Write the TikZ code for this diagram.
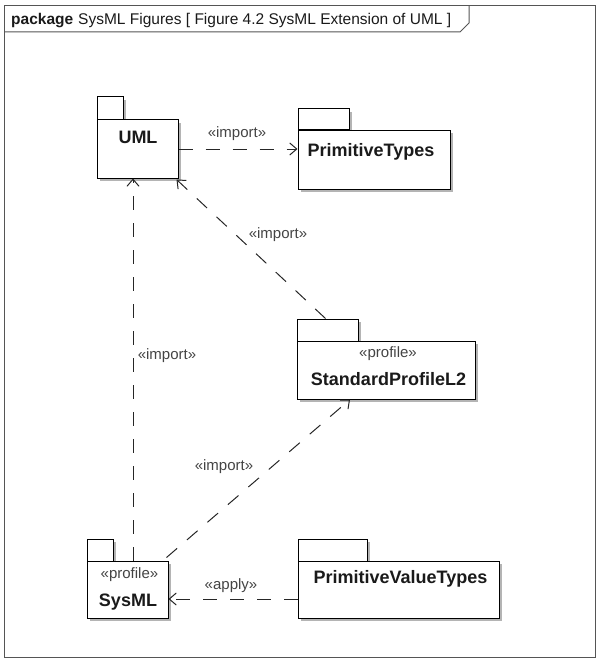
\documentclass[tikz,border=0pt]{standalone}
\usepackage{fontspec}
\setmainfont{Liberation Sans}
\usetikzlibrary{arrows.meta,shadows}
\definecolor{framec}{HTML}{555555}
\definecolor{shadowc}{HTML}{B4B4B4}
\definecolor{textc}{HTML}{1A1A1A}
\definecolor{labelc}{HTML}{444444}
\begin{document}
\begin{tikzpicture}[x=1pt,y=-1pt,
  pkg/.style={draw=black, line width=1pt, fill=white, inner sep=0pt,
    drop shadow={shadow xshift=3pt, shadow yshift=-3pt, fill=shadowc, opacity=1}},
  pkgname/.style={font=\fontsize{18}{20}\selectfont\bfseries, text=textc, inner sep=0pt, anchor=base},
  stereo/.style={font=\fontsize{15}{17}\selectfont, text=labelc, inner sep=0pt, anchor=base},
  dep/.style={line width=1pt, dash pattern=on 14pt off 13pt, draw=black!85,
    -{Straight Barb[length=7pt,width=12pt,line width=1pt]}},
  deplabel/.style={font=\fontsize{15}{17}\selectfont, text=labelc, inner sep=0pt, anchor=base}
]
\useasboundingbox (0,0) rectangle (596,658);
% frame
\draw[framec, line width=1pt] (4,5.5) rectangle (595,657);
\draw[framec, line width=1pt] (4,32) -- (460,32) -- (469,23) -- (469,5.5);
\node[anchor=base west, font=\fontsize{15.5}{17}\selectfont, text=textc, inner sep=0pt] (title) at (11,24.5)
  {\textbf{package}\hspace{5pt}SysML Figures [ Figure 4.2 SysML Extension of UML ]};

% UML
\node[pkg, minimum width=26pt, minimum height=23pt] (umltab) at (110,108.5) {};
\node[pkg, minimum width=81pt, minimum height=58pt] (uml) at (137.5,149) {};
\node[pkgname] (umlname) at (138,143) {UML};

% PrimitiveTypes
\node[pkg, minimum width=51pt, minimum height=21pt] (pttab) at (323.5,119.5) {};
\node[pkg, minimum width=152pt, minimum height=59pt] (pt) at (374,159.5) {};
\node[pkgname] (ptname) at (371,156) {PrimitiveTypes};

% StandardProfileL2
\node[pkg, minimum width=61pt, minimum height=22pt] (spltab) at (327.5,330) {};
\node[pkg, minimum width=178pt, minimum height=58pt] (spl) at (386,370) {};
\node[stereo] (splst) at (388,357) {«profile»};
\node[pkgname] (splname) at (388.5,385) {StandardProfileL2};

% SysML
\node[pkg, minimum width=26pt, minimum height=22pt] (sysmltab) at (100,550) {};
\node[pkg, minimum width=81pt, minimum height=57pt] (sysml) at (127.5,589.5) {};
\node[stereo] (sysmlst) at (129.5,578) {«profile»};
\node[pkgname] (sysmlname) at (128,606) {SysML};

% PrimitiveValueTypes
\node[pkg, minimum width=69pt, minimum height=22pt] (pvttab) at (332.5,550) {};
\node[pkg, minimum width=201pt, minimum height=57pt] (pvt) at (398.5,589.5) {};
\node[pkgname] (pvtname) at (400.5,583) {PrimitiveValueTypes};

% dependencies
\draw[dep] (uml.east) -- (uml.east -| pt.west);
\node[deplabel] (l1) at (237,137) {«import»};

\draw[dep] ([xshift=-2pt]spltab.north) -- ([shift={(-2pt,-1pt)}]uml.south east);
\node[deplabel] (l2) at (278,238) {«import»};

\draw[dep] ([xshift=5.5pt]sysml.north) -- ([xshift=5.5pt]sysml.north |- uml.south);
\node[deplabel] (l3) at (167,359) {«import»};

\draw[dep] ([shift={(-2pt,3pt)}]sysml.north east) -- ([xshift=-36pt]spl.south);
\node[deplabel] (l4) at (224,470) {«import»};

\draw[dep] ([yshift=-9.5pt]pvt.west) -- ([yshift=-9.5pt]pvt.west -| sysml.east);
\node[deplabel] (l5) at (231,589) {«apply»};
\end{tikzpicture}
\end{document}
